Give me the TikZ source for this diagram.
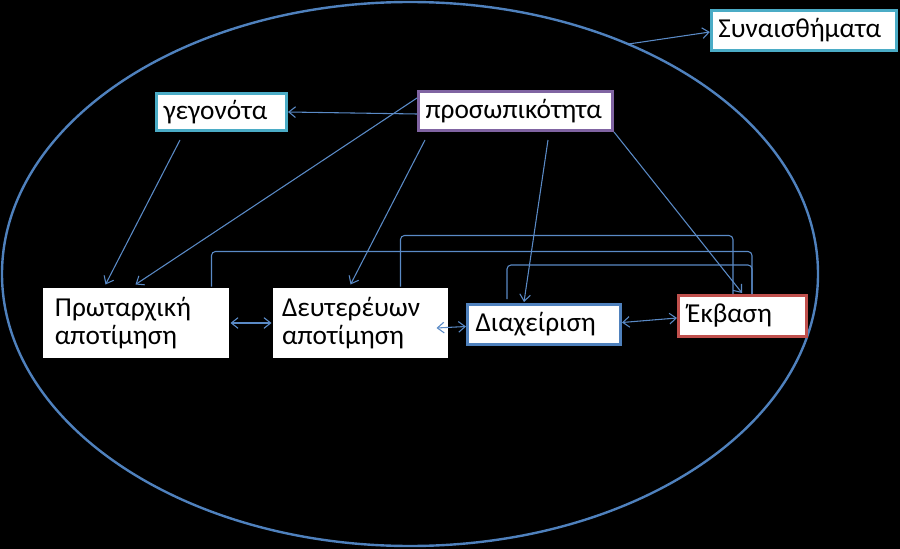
\documentclass[tikz,border=0pt]{standalone}
\usepackage{fontspec}
\setmainfont{Carlito}
\usetikzlibrary{calc,arrows.meta}
\definecolor{ellblue}{HTML}{4F81BD}
\definecolor{lineblue}{HTML}{5A8AC6}
\definecolor{tealb}{HTML}{4BACC6}
\definecolor{purpb}{HTML}{8064A2}
\definecolor{blueb}{HTML}{4F81BD}
\definecolor{redb}{HTML}{C0504D}
\begin{document}
\begin{tikzpicture}[x=0.75pt,y=-0.75pt,
  box/.style={rectangle, fill=white, line width=2.25pt, inner xsep=5.25pt, inner ysep=0pt,
    align=left, font=\fontsize{20.5pt}{21pt}\selectfont, anchor=center},
  conn/.style={draw=lineblue, line width=0.8pt},
  arr/.style={conn, -{Straight Barb[length=5pt,width=8pt]}},
  darr/.style={conn, {Straight Barb[length=5pt,width=8pt]}-{Straight Barb[length=5pt,width=8pt]}},
  elbow/.style={conn, rounded corners=3pt}]
\fill[black] (0,0) rectangle (900,549);
\useasboundingbox (0,0) rectangle (900,549);
% big ellipse
\coordinate (ellc) at (410,274);
\draw[ellblue, line width=1.8pt] (ellc) ellipse [x radius=306pt, y radius=204pt];
\coordinate (emo) at ($(ellc)+(57.7:306pt and 204pt)$);
% boxes
\node[box, draw=tealb, minimum width=139pt, minimum height=30pt, text width=128.5pt] (syn) at (804,30.5) {Συναισθήματα};
\node[box, draw=tealb, minimum width=97.5pt, minimum height=27.75pt, text width=87pt] (geg) at (221.5,112) {γεγονότα};
\node[box, draw=purpb, minimum width=145.5pt, minimum height=29.25pt, text width=135pt] (pros) at (515.5,111) {προσωπικότητα};
\node[box, minimum width=139.5pt, minimum height=52.5pt, inner xsep=9pt, text width=121.5pt] (prot) at (136,323) {Πρωταρχική\\αποτίμηση};
\node[box, minimum width=131.25pt, minimum height=52.5pt, inner xsep=6.75pt, text width=117.75pt] (deut) at (360.5,323) {Δευτερέυων\\αποτίμηση};
\node[box, draw=blueb, minimum width=114.75pt, minimum height=30pt, inner xsep=6pt, text width=102.75pt] (diax) at (544,324.5) {Διαχείριση};
\node[box, draw=redb, minimum width=96pt, minimum height=30.75pt, inner xsep=6.5pt, text width=83pt] (ekv) at (742.5,316) {Έκβαση};
% arrows
\draw[arr] (emo) -- ($(syn.west)+(0,1.5)$);
\draw[arr] ($(pros.west)+(0,3)$) -- (geg.east);
\draw[arr] ($(geg.south west)+(25,8)$) -- ($(prot.north west)+(64,-2)$);
\draw[arr] ($(pros.north west)+(0,8)$) -- ($(prot.north west)+(94,-2)$);
\draw[arr] ($(pros.south west)+(8,8)$) -- ($(deut.north west)+(79,-2)$);
\draw[arr] ($(pros.south west)+(131,8)$) -- ($(diax.north west)+(58,-1)$);
\draw[arr] (pros.south east) -- ($(ekv.north west)+(65,-1)$);
% elbow connectors
\draw[elbow] ($(prot.north west)+(170,0)$) -- ++(0,-35) -| ($(ekv.north west)+(75,0)$);
\draw[elbow] ($(deut.north west)+(129,0)$) -- ++(0,-51) -| ($(ekv.north west)+(56,0)$);
\draw[elbow] ($(diax.north west)+(41,-4)$) -- ++(0,-34) -| ($(ekv.north west)+(75,0)$);
% double arrows
\draw[darr] (prot.east) -- (deut.west);
\draw[darr] ($(deut.east)+(-13,5)$) -- ($(diax.west)+(0,2)$);
\draw[darr] ($(diax.east)+(0,-2)$) -- ($(ekv.west)+(0,2)$);
\end{tikzpicture}
\end{document}
